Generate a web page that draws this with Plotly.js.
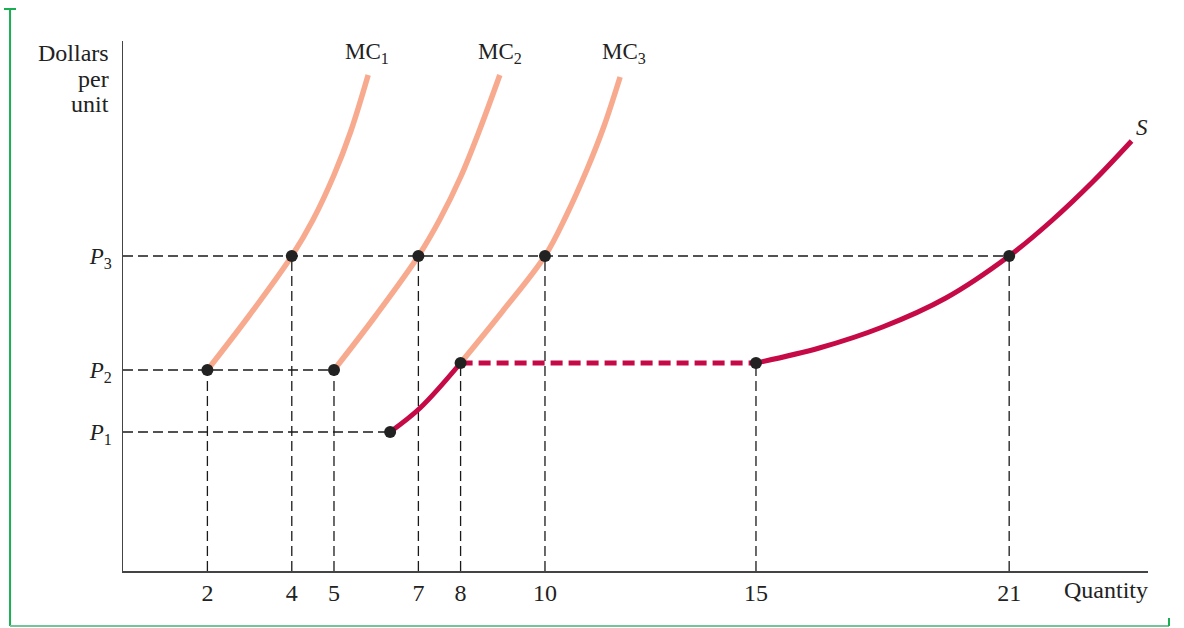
<!DOCTYPE html>
<html>
<head>
<meta charset="utf-8">
<script src="https://cdn.plot.ly/plotly-3.0.1.min.js"></script>
<style>html,body{margin:0;padding:0;background:#fff;}#chart{width:1184px;height:628px;}</style>
</head>
<body>
<div id="chart"></div>
<script>
// ---- data ----
const quantityTicks = [2, 4, 5, 7, 8, 10, 15, 21];
const priceLevels = [13.9, 20.1, 31.5];          // P1, P2, P3
const priceLabels = ['<i>P</i><sub>1</sub>', '<i>P</i><sub>2</sub>', '<i>P</i><sub>3</sub>'];

const mc1X = [2, 3, 4, 4.5, 5, 5.4, 5.81];
const mc1Y = [20.1, 25.6, 31.5, 35.1, 39.6, 44.0, 49.6];
const mc2X = [5, 6, 7, 7.5, 8, 8.45, 8.93];
const mc2Y = [20.1, 25.6, 31.5, 35.1, 39.4, 44.1, 49.6];
const mc3X = [8, 9, 10, 10.5, 11, 11.4, 11.78];
const mc3Y = [20.8, 26.0, 31.5, 35.5, 40.2, 44.5, 49.4];

const sLowX = [6.33, 7.04, 8];
const sLowY = [13.9, 16.3, 20.8];
const sFlatX = [8, 15];
const sFlatY = [20.8, 20.8];
const sHighX = [15, 16.5, 18, 19.5, 21, 22, 23, 23.9];
const sHighY = [20.8, 22.3, 24.4, 27.3, 31.5, 35.0, 39.0, 43.0];

const pointX = [2, 4, 5, 7, 6.33, 8, 10, 15, 21];
const pointY = [20.1, 31.5, 20.1, 31.5, 13.9, 20.8, 31.5, 20.8, 31.5];

// guide lines: horizontal (to quantity) and vertical (from point to axis)
const hGuideEnd = [6.33, 5, 21];                   // for P1, P2, P3
const vGuideX = [2, 4, 5, 7, 8, 10, 15, 21];
const vGuideTop = [20.1, 31.5, 20.1, 31.5, 20.8, 31.5, 20.8, 31.5];

const mcLabels = ['MC<sub>1</sub>', 'MC<sub>2</sub>', 'MC<sub>3</sub>'];
const mcLabelX = [5.79, 8.94, 11.88];

// ---- build ----
const SERIF = 'Liberation Serif, Times New Roman, serif';
const SALMON = '#F8AA8E';
const CRIMSON = '#C50A47';
const INK = '#222222';

const gx = [], gy = [];
priceLevels.forEach((p, i) => { gx.push(0, hGuideEnd[i], null); gy.push(p, p, null); });
vGuideX.forEach((x, i) => { gx.push(x, x, null); gy.push(0, vGuideTop[i], null); });

const traces = [
  {x: gx, y: gy, mode: 'lines', line: {color: '#1a1a1a', width: 1.3, dash: '10px,5px'}, hoverinfo: 'skip'},
  {x: mc1X, y: mc1Y, mode: 'lines', line: {color: SALMON, width: 5.5, shape: 'spline', smoothing: 1}},
  {x: mc2X, y: mc2Y, mode: 'lines', line: {color: SALMON, width: 5.5, shape: 'spline', smoothing: 1}},
  {x: mc3X, y: mc3Y, mode: 'lines', line: {color: SALMON, width: 5.5, shape: 'spline', smoothing: 1}},
  {x: sLowX, y: sLowY, mode: 'lines', line: {color: CRIMSON, width: 5, shape: 'spline'}},
  {x: sFlatX, y: sFlatY, mode: 'lines', line: {color: CRIMSON, width: 5, dash: '12px,6px'}},
  {x: sHighX, y: sHighY, mode: 'lines', line: {color: CRIMSON, width: 5, shape: 'spline', smoothing: 1}},
  {x: pointX, y: pointY, mode: 'markers', marker: {color: INK, size: 12}, cliponaxis: false}
];

const annotations = [];
mcLabels.forEach((t, i) => annotations.push({
  x: mcLabelX[i], xref: 'x', y: 0.977, yref: 'paper', text: t, showarrow: false,
  xanchor: 'center', yanchor: 'middle', font: {family: SERIF, size: 23, color: INK}
}));
annotations.push({x: 23.9, xref: 'x', y: 44.4, yref: 'y', text: '<i>S</i>', showarrow: false,
  xanchor: 'left', yanchor: 'middle', xshift: 2, font: {family: SERIF, size: 23, color: INK}});
[['Dollars', 0.978], ['per', 0.928], ['unit', 0.881]].forEach(([t, y]) => annotations.push({
  x: -0.0117, xref: 'paper', y: y, yref: 'paper', text: t, showarrow: false,
  xanchor: 'right', yanchor: 'middle', font: {family: SERIF, size: 24, color: INK}
}));
annotations.push({x: 1.002, xref: 'paper', y: -0.036, yref: 'paper', text: 'Quantity', showarrow: false,
  xanchor: 'right', yanchor: 'middle', font: {family: SERIF, size: 24, color: INK}});

const shapes = [
  {type: 'line', xref: 'paper', yref: 'paper', x0: -0.1102, x1: -0.1102, y0: 1.0604, y1: -0.1038, line: {color: '#19AE52', width: 2}},
  {type: 'line', xref: 'paper', yref: 'paper', x0: -0.1161, x1: -0.1044, y0: 1.0604, y1: 1.0604, line: {color: '#19AE52', width: 2}},
  {type: 'line', xref: 'paper', yref: 'paper', x0: -0.1102, x1: 1.0205, y0: -0.1038, y1: -0.1038, line: {color: '#72C49C', width: 2}},
  {type: 'line', xref: 'paper', yref: 'paper', x0: 1.0205, x1: 1.0205, y0: -0.1038, y1: -0.0887, line: {color: '#19AE52', width: 2}}
];

const layout = {
  width: 1184, height: 628,
  margin: {l: 123, r: 36, t: 41, b: 57},
  paper_bgcolor: '#fff', plot_bgcolor: '#fff',
  showlegend: false,
  xaxis: {range: [0, 24.29], showline: true, linecolor: '#444', linewidth: 1.5,
    showgrid: false, zeroline: false, ticks: '', tickvals: quantityTicks,
    ticktext: quantityTicks.map(String), ticklabelstandoff: 0,
    tickfont: {family: SERIF, size: 24, color: INK}},
  yaxis: {range: [0, 53], showline: true, linecolor: '#444', linewidth: 1.5,
    showgrid: false, zeroline: false, ticks: '', tickvals: priceLevels, ticktext: priceLabels,
    ticklabelstandoff: 5, tickfont: {family: SERIF, size: 23, color: INK}},
  annotations: annotations,
  shapes: shapes
};

Plotly.newPlot('chart', traces, layout, {displayModeBar: false, staticPlot: true});
</script>
</body>
</html>
